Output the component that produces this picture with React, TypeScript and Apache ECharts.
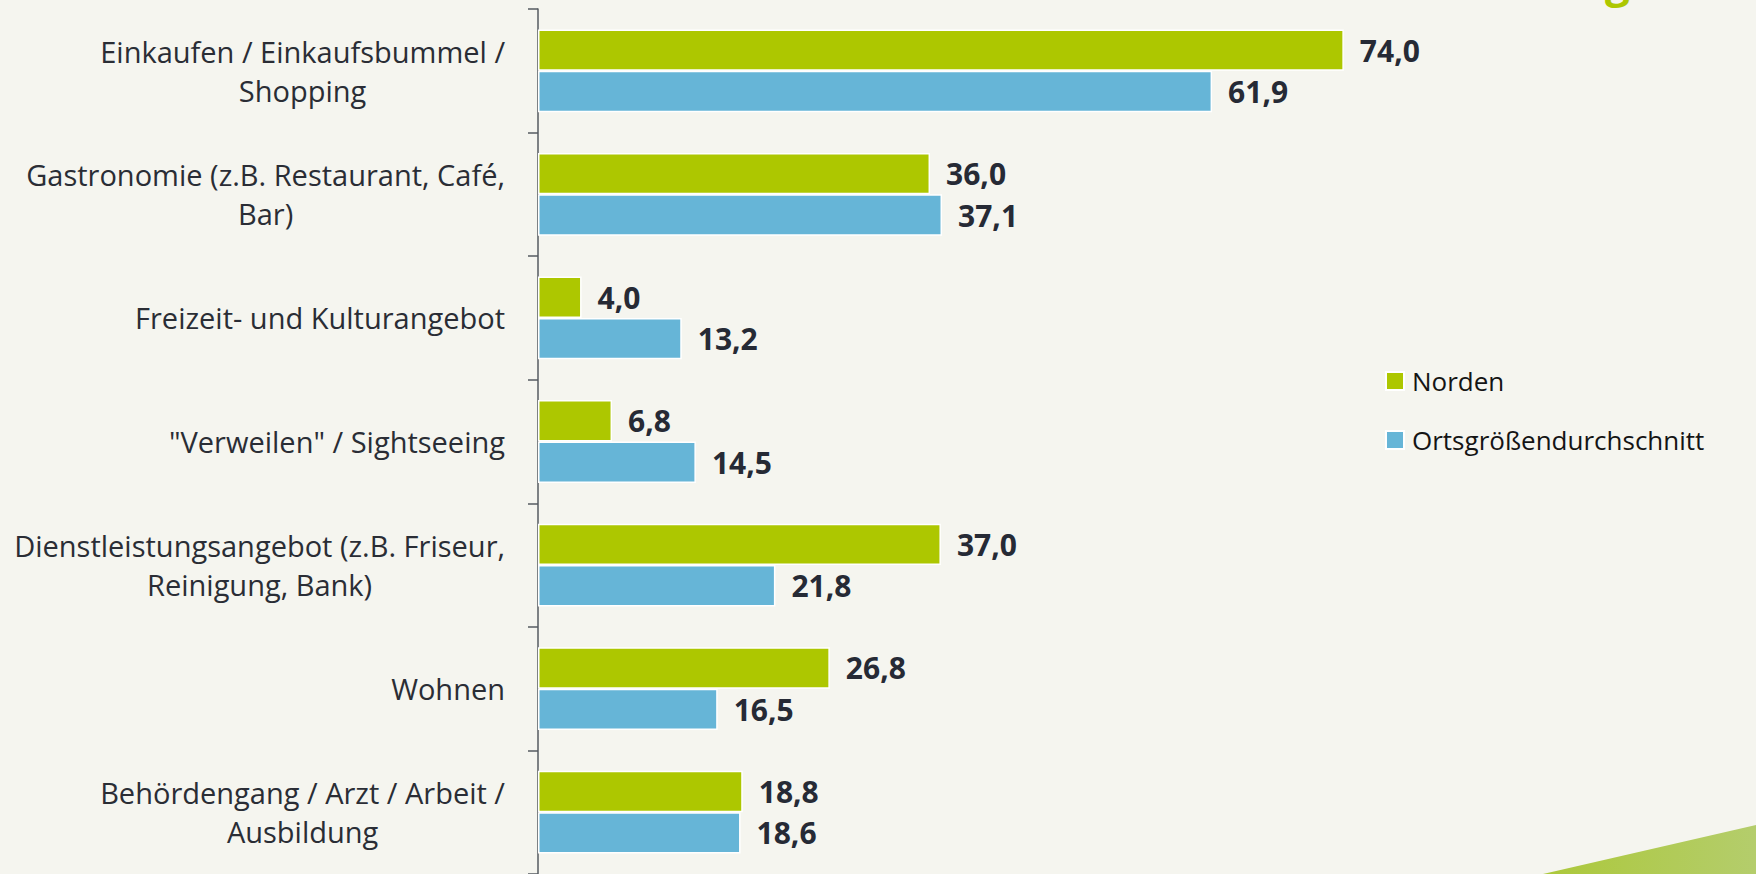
import React, { useEffect, useRef } from "react";
import * as echarts from "echarts";

const categories = [
  "Einkaufen / Einkaufsbummel /\nShopping",
  "Gastronomie (z.B. Restaurant, Café,\nBar)",
  "Freizeit- und Kulturangebot",
  "\"Verweilen\" / Sightseeing",
  "Dienstleistungsangebot (z.B. Friseur,\nReinigung, Bank)",
  "Wohnen",
  "Behördengang / Arzt / Arbeit /\nAusbildung",
];
const seriesNames = ["Norden", "Ortsgrößendurchschnitt"];
const nordenValues = [74.0, 36.0, 4.0, 6.8, 37.0, 26.8, 18.8];
const ortsValues = [61.9, 37.1, 13.2, 14.5, 21.8, 16.5, 18.6];

const GREEN = "#adc700";
const BLUE = "#66b5d7";
const BG = "#f5f5ef";
const FONT = "'Open Sans', 'Noto Sans', sans-serif";

export default function App() {
  const ref = useRef<HTMLDivElement>(null);
  useEffect(() => {
    if (!ref.current) return;
    const chart = echarts.init(ref.current, null, { renderer: "svg" });
    const valueLabel = {
      show: true,
      position: "right",
      distance: 16,
      fontFamily: FONT,
      fontSize: 30,
      fontWeight: "bold",
      color: "#262a35",
      formatter: (p: any) => Number(p.value).toFixed(1).replace(".", ","),
    };
    chart.setOption({
      animation: false,
      backgroundColor: BG,
      textStyle: { fontFamily: FONT },
      grid: { left: 538, top: 9, width: 1089, height: 869, containLabel: false },
      legend: {
        orient: "vertical",
        left: 1385,
        top: 368,
        padding: 0,
        itemWidth: 18,
        itemHeight: 18,
        itemGap: 33,
        icon: "rect",
        textStyle: { fontFamily: FONT, fontSize: 26, color: "#141414", padding: [0, 0, 0, 3] },
        data: seriesNames,
      },
      xAxis: { type: "value", min: 0, max: 100, show: false },
      yAxis: {
        type: "category",
        inverse: true,
        data: categories,
        axisLine: { show: true, lineStyle: { color: "#555a60", width: 1.5 } },
        axisTick: { show: true, length: 10, lineStyle: { color: "#555a60", width: 1.5 } },
        axisLabel: {
          margin: 33,
          align: "right",
          fontFamily: FONT,
          fontSize: 29,
          color: "#2a2d35",
          formatter: (v: string) =>
            v
              .split("\n")
              .map((l) => `{c|${l}}`)
              .join("\n"),
          rich: {
            c: {
              align: "center",
              fontFamily: FONT,
              fontSize: 29,
              lineHeight: 39,
              color: "#2a2d35",
            },
          },
        },
      },
      series: [
        {
          name: seriesNames[0],
          type: "bar",
          data: nordenValues,
          barGap: "0%",
          barCategoryGap: "33%",
          itemStyle: { color: GREEN, borderColor: "#ffffff", borderWidth: 1.5 },
          label: valueLabel,
        },
        {
          name: seriesNames[1],
          type: "bar",
          data: ortsValues,
          barGap: "0%",
          barCategoryGap: "33%",
          itemStyle: { color: BLUE, borderColor: "#ffffff", borderWidth: 1.5 },
          label: valueLabel,
        },
      ],
      graphic: [
        {
          type: "text",
          left: 1605,
          top: -42,
          style: {
            text: "g",
            fontFamily: FONT,
            fontSize: 44,
            fontWeight: "bold",
            fill: GREEN,
          },
        },
        {
          type: "polygon",
          shape: { points: [[1543, 874], [1756, 825], [1756, 874]] },
          style: {
            fill: new echarts.graphic.LinearGradient(0, 0, 1, 0, [
              { offset: 0, color: "#acc83a" },
              { offset: 1, color: "#b4cd6c" },
            ]),
          },
        },
      ],
    });
    return () => chart.dispose();
  }, []);
  return (
    <div
      ref={ref}
      style={{ position: "fixed", left: 0, top: 0, width: 1756, height: 874 }}
    />
  );
}
